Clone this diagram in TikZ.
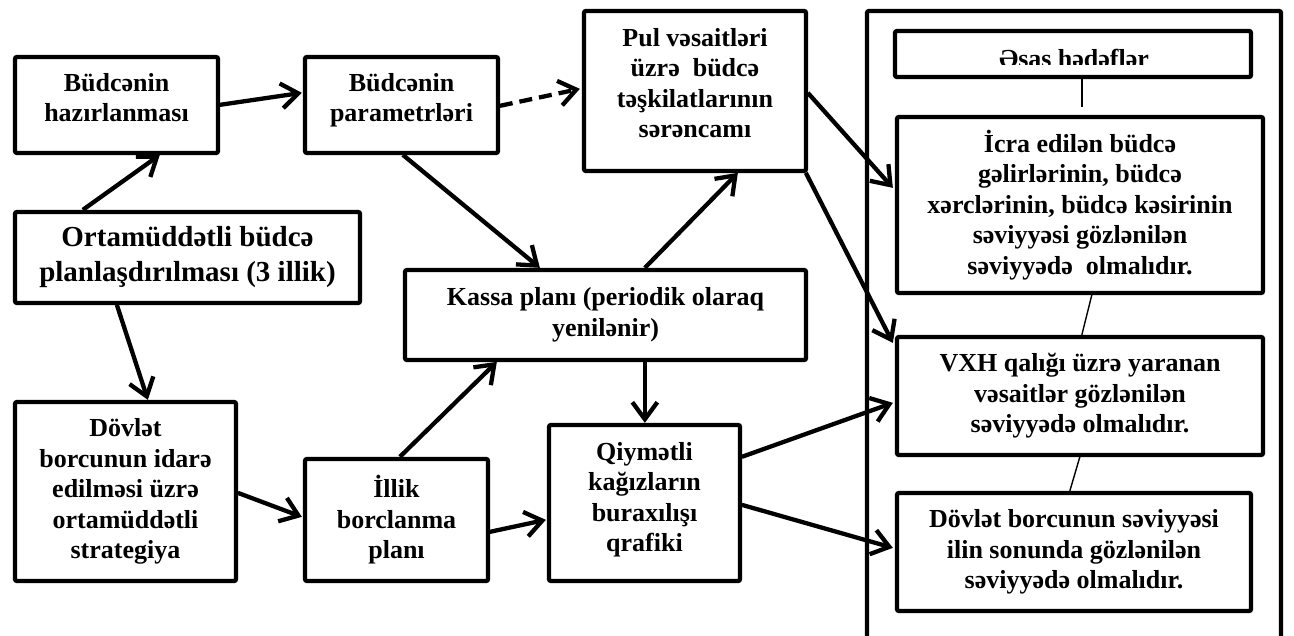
\documentclass[tikz,border=0pt]{standalone}
\usepackage{fontspec}
\setmainfont{Liberation Serif}
\usetikzlibrary{arrows.meta,calc}

% point given as an offset from a node's north west corner
\newcommand{\nwp}[3]{($(#1.north west)+(#2,#3)$)}

\tikzset{
  box/.style={draw, line width=4.3pt, rounded corners=2pt, align=center,
    inner sep=0pt, font=\bfseries\fontsize{26}{30.5}\selectfont},
  arr/.style={line width=4.3pt, -{Straight Barb[length=17pt,width=25pt]}},
  dasharr/.style={arr, dash pattern=on 13pt off 7pt},
  thin/.style={line width=1.4pt}
}

\begin{document}
\begin{tikzpicture}[x=1pt, y=-1pt]
\useasboundingbox (0,0) rectangle (1294,636);

% left and middle part of the scheme
\node[box, minimum width=203pt, minimum height=96pt, text depth=15pt] (b1) at (116.5,105) {Büdcənin\\hazırlanması};
\node[box, minimum width=193pt, minimum height=96pt, text depth=15pt] (b2) at (401.5,105) {Büdcənin\\parametrləri};
\node[box, minimum width=222pt, minimum height=160pt, text depth=16pt] (b3) at (695,91) {Pul vəsaitləri\\üzrə\ \ büdcə\\təşkilatlarının\\sərəncamı};
\node[box, minimum width=345pt, minimum height=91pt, font=\bfseries\fontsize{29}{35}\selectfont] (b4) at (187.5,257.5) {Ortamüddətli büdcə\\planlaşdırılması (3 illik)};
\node[box, minimum width=401pt, minimum height=90pt] (kassa) at (605.5,315) {Kassa planı (periodik olaraq\\yenilənir)};
\node[box, minimum width=221pt, minimum height=179pt] (dov) at (125.5,491.5) {Dövlət\\borcunun idarə\\edilməsi üzrə\\ortamüddətli\\strategiya};
\node[box, minimum width=183pt, minimum height=122pt] (illik) at (396.5,520) {İllik\\borclanma\\planı};
\node[box, minimum width=191pt, minimum height=156pt, text depth=12pt] (qiy) at (644.5,503) {Qiymətli\\kağızların\\buraxılışı\\qrafiki};

% frame of the targets
\draw[line width=4.3pt, rounded corners=2pt] (867,640) -- (867,11) -- (1281,11) -- (1281,640);

\node[box, minimum width=356pt, minimum height=46pt] (hed) at (1073,54) {};
\begin{scope}
  \clip (893,29) rectangle (1253,65);
  \node[font=\bfseries\fontsize{26}{30.5}\selectfont, inner sep=0pt, anchor=base] (hedtext) at (1074,68) {Əsas hədəflər};
\end{scope}
\node[box, minimum width=366pt, minimum height=176pt] (icra) at (1080,205) {İcra edilən büdcə\\gəlirlərinin, büdcə\\xərclərinin, büdcə kəsirinin\\səviyyəsi gözlənilən\\səviyyədə\ \ olmalıdır.};
\node[box, minimum width=366pt, minimum height=118pt] (vxh) at (1080,396) {VXH qalığı üzrə yaranan\\vəsaitlər gözlənilən\\səviyyədə olmalıdır.};
\node[box, minimum width=354pt, minimum height=118pt] (dov2) at (1074,552) {Dövlət borcunun səviyyəsi\\ilin sonunda gözlənilən\\səviyyədə olmalıdır.};

% thin links between the targets
\path \nwp{hed}{189}{78} coordinate (hedend);
\draw[thin] \nwp{hed}{189}{50} -- (hedend);
\draw[thin] \nwp{icra}{197}{180} -- \nwp{vxh}{187}{0};
\draw[thin] \nwp{vxh}{185}{122} -- \nwp{dov2}{175}{0};

% arrows
\draw[arr] \nwp{b1}{207}{50} -- \nwp{b2}{-1}{38};
\draw[arr] \nwp{b4}{70}{0} -- \nwp{b1}{147}{100};
\draw[dasharr] \nwp{b2}{197}{51} -- \nwp{b3}{-2}{80};
\draw[arr] \nwp{b2}{100}{100} -- \nwp{kassa}{137}{0};
\draw[arr] \nwp{kassa}{242}{0} -- \nwp{b3}{156}{164};
\draw[arr] \nwp{b3}{226}{84} -- \nwp{icra}{-2}{73};
\draw[arr] \nwp{b3}{224}{164} -- \nwp{vxh}{-2}{8};
\draw[arr] \nwp{b4}{104}{95} -- \nwp{dov}{135}{0};
\draw[arr] \nwp{dov}{225}{93} -- \nwp{illik}{-1}{60};
\draw[arr] \nwp{illik}{97}{0} -- \nwp{kassa}{94}{94};
\draw[arr] \nwp{kassa}{242}{94} -- \nwp{qiy}{98}{0};
\draw[arr] \nwp{illik}{187}{75} -- \nwp{qiy}{-1}{97};
\draw[arr] \nwp{qiy}{195}{34} -- \nwp{vxh}{-2}{68};
\draw[arr] \nwp{qiy}{195}{82} -- \nwp{dov2}{-2}{57};
\end{tikzpicture}
\end{document}
